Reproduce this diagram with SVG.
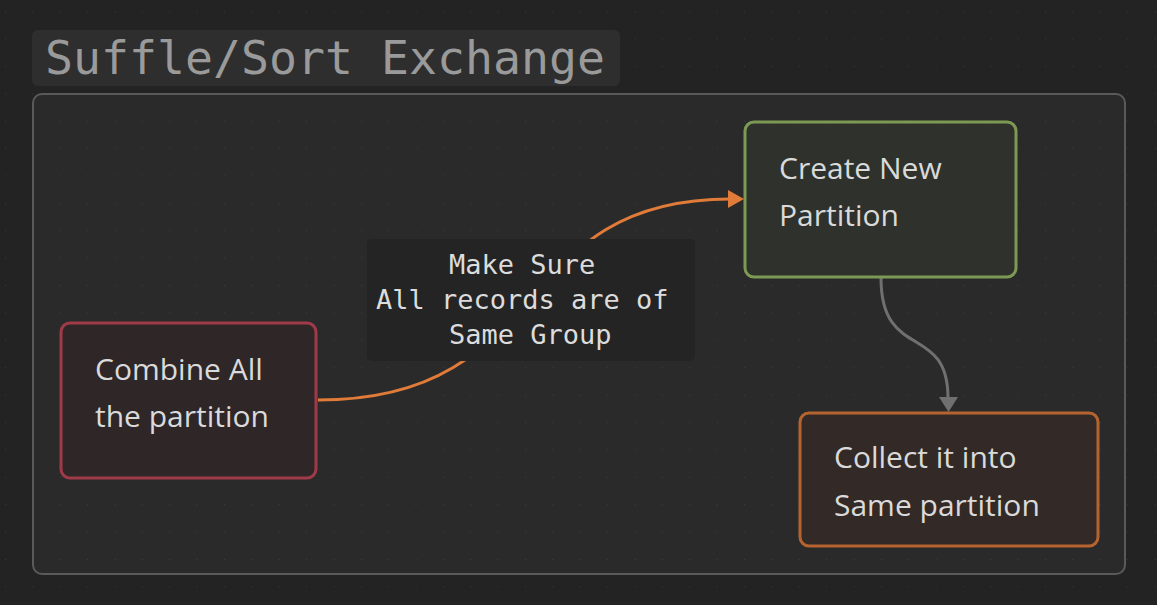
<svg xmlns="http://www.w3.org/2000/svg" width="1157" height="605" viewBox="0 0 1157 605">
  <defs>
    <pattern id="dotsOut" x="5" y="11" width="27.37" height="27.4" patternUnits="userSpaceOnUse">
      <rect x="-1" y="-1" width="2" height="2" fill="#383838"/>
    </pattern>
    <pattern id="dotsIn" x="5" y="11" width="27.37" height="27.4" patternUnits="userSpaceOnUse">
      <rect x="-1" y="-1" width="2" height="2" fill="#3d3d3d"/>
    </pattern>
    <style>
      .node rect { stroke-width: 3; }
      .ntext { font-family: "Open Sans", "Noto Sans", sans-serif; font-size: 30px; fill: #dadada; }
      .mono { font-family: "DejaVu Sans Mono", "Liberation Mono", monospace; }
      .edge { fill: none; stroke-width: 3; }
    </style>
  </defs>
  <rect width="1157" height="605" fill="#232323"/>
  <rect width="1157" height="605" fill="url(#dotsOut)"/>

  <g id="group-suffle-sort">
    <rect x="32" y="30" width="588" height="56" rx="6" fill="#2e2e2e"/>
    <text x="45" y="73.5" class="mono" font-size="46.5" fill="#9a9a9a">Suffle/Sort Exchange</text>
    <rect x="33" y="94" width="1092" height="480" rx="9" fill="#2a2a2a" stroke="#5a5a5a" stroke-width="2"/>
    <rect x="34" y="95" width="1090" height="478" rx="8" fill="url(#dotsIn)"/>
  </g>

  <g id="connectors">
    <path class="edge" stroke="#e07b39" d="M318,400 C556,400 506,199 730,199"/>
    <polygon points="744,199 728,190 728,208" fill="#e07b39"/>
    <path class="edge" stroke="#707070" d="M881,278 C881,362 948,322 948,398"/>
    <polygon points="948.5,412 939,397 958,397" fill="#707070"/>
  </g>

  <g id="edge-label">
    <rect x="367" y="239" width="328" height="122" rx="5" fill="#242424"/>
    <text class="mono" font-size="27" fill="#dcdcdc">
      <tspan x="449" y="274">Make Sure</tspan>
      <tspan x="376" y="309">All records are of</tspan>
      <tspan x="449" y="344">Same Group</tspan>
    </text>
  </g>

  <g id="node-combine" class="node">
    <rect x="61" y="323" width="255" height="155" rx="9" fill="#2f2628" stroke="#a13a48"/>
    <text class="ntext"><tspan x="95" y="380">Combine All</tspan><tspan x="95" y="426.5">the partition</tspan></text>
  </g>

  <g id="node-create" class="node">
    <rect x="745" y="122" width="271" height="155" rx="9" fill="#2f322c" stroke="#7d9a55"/>
    <text class="ntext"><tspan x="779" y="179">Create New</tspan><tspan x="779" y="226">Partition</tspan></text>
  </g>

  <g id="node-collect" class="node">
    <rect x="800" y="413" width="298" height="133" rx="9" fill="#332a27" stroke="#b5642f"/>
    <text class="ntext"><tspan x="834" y="468">Collect it into</tspan><tspan x="834" y="516">Same partition</tspan></text>
  </g>
</svg>
